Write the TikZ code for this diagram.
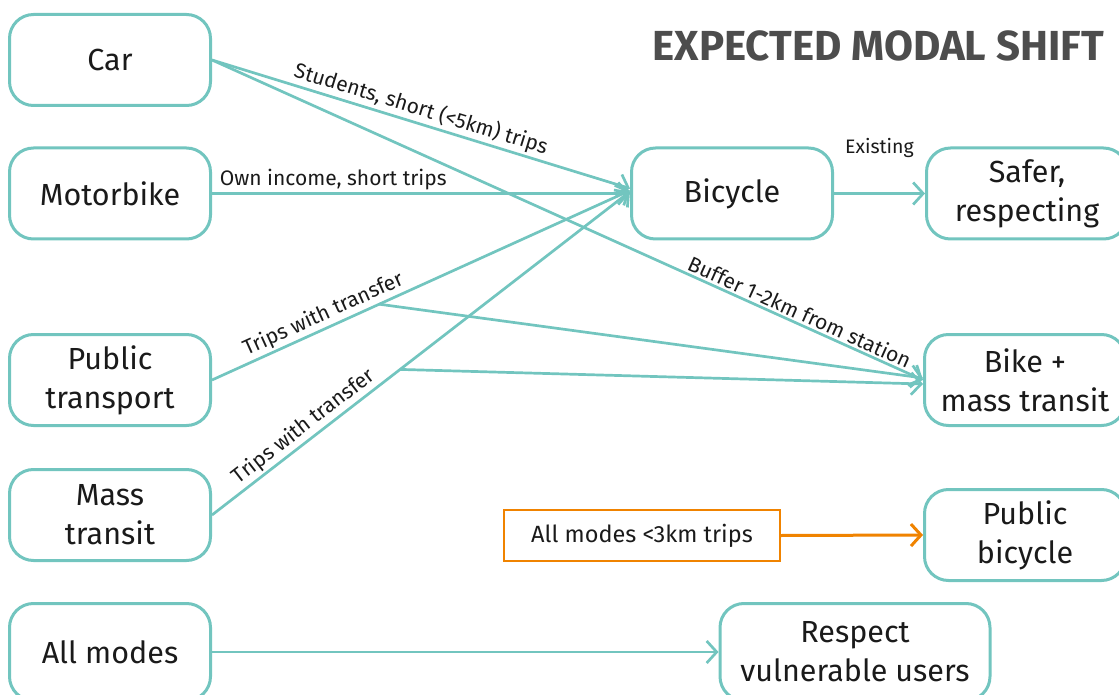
\documentclass[tikz,border=0pt]{standalone}
\usepackage{fontspec}
\setmainfont{Fira Sans}
\usetikzlibrary{arrows.meta}
\definecolor{modeteal}{HTML}{72C5BF}
\definecolor{modeorange}{HTML}{F08300}
\definecolor{textdark}{HTML}{1A1A1A}
\definecolor{titlegray}{HTML}{4D4D4D}
\begin{document}
\begin{tikzpicture}[x=1pt,y=-1pt,
  mode/.style={draw=modeteal, line width=3pt, rounded corners=24pt,
    minimum width=201pt, minimum height=91pt, align=center,
    font=\fontsize{30.5}{39}\selectfont, text=textdark, inner sep=0pt},
  link/.style={draw=modeteal, line width=2.7pt,
    -{Straight Barb[length=10pt,width=22pt,line width=2.7pt]}},
  lbl/.style={font=\fontsize{21}{24}\selectfont, text=textdark,
    sloped, above, inner sep=2pt},
  obox/.style={draw=modeorange, line width=2pt, minimum width=276pt,
    minimum height=51pt, font=\fontsize{23.5}{27}\selectfont, text=textdark},
  olink/.style={draw=modeorange, line width=3pt,
    -{Straight Barb[length=10pt,width=22pt,line width=3pt]}}
]
\useasboundingbox (0,0) rectangle (1119,695);

% title
\node[anchor=base east, inner sep=0pt, text=titlegray,
  font=\bfseries\fontsize{42}{48}\selectfont] (title) at (1104,61)
  {EXPECTED MODAL SHIFT};

% current modes
\node[mode] (car)  at (110,60)    {Car};
\node[mode] (moto) at (110,193.5) {Motorbike};
\node[mode] (pt)   at (110,380)   {Public\\transport};
\node[mode] (mt)   at (110,515)   {Mass\\transit};
\node[mode, minimum height=97pt] (allm) at (110,652) {All modes};

% target modes
\node[mode] (bic)   at (732,193.5)  {Bicycle};
\node[mode] (safer) at (1027,193.5) {Safer,\\respecting};
\node[mode] (bmt)   at (1025,380)   {Bike +\\mass transit};
\node[mode] (pbic)  at (1025,535)   {Public\\bicycle};
\node[mode, minimum width=270pt, minimum height=97pt] (resp) at (855,652)
  {Respect\\vulnerable users};
\node[obox] (short) at (642,535.5) {All modes <3km trips};

% shifts
\draw[link] (car.east) -- ([yshift=5pt]bic.west)
  node[lbl, pos=0.49] {Students, short (<5km) trips};
\draw[link] (car.east) -- (bmt.west)
  node[lbl, pos=0.82] {Buffer 1-2km from station};
\draw[link] (moto.east) -- (bic.west)
  node[lbl, pos=0.29] {Own income, short trips};
\draw[link] (pt.east) -- ([yshift=3pt]bic.west)
  coordinate[pos=0.4] (ptb)
  node[lbl, pos=0.28] {Trips with transfer};
\draw[link] (ptb) -- ([yshift=2pt]bmt.west);
\draw[link] (mt.east) -- ([yshift=2pt]bic.west)
  coordinate[pos=0.45] (mtb)
  node[lbl, pos=0.24] {Trips with transfer};
\draw[link] (mtb) -- ([yshift=-4pt]bmt.west);
\draw[link] (bic.east) -- (safer.west)
  node[midway, above=32pt, inner sep=2pt, text=textdark,
    font=\fontsize{19.5}{22}\selectfont] {Existing};
\draw[olink] (short.east) -- (pbic.west);
\draw[link] (allm.east) -- (resp.west);
\end{tikzpicture}
\end{document}
